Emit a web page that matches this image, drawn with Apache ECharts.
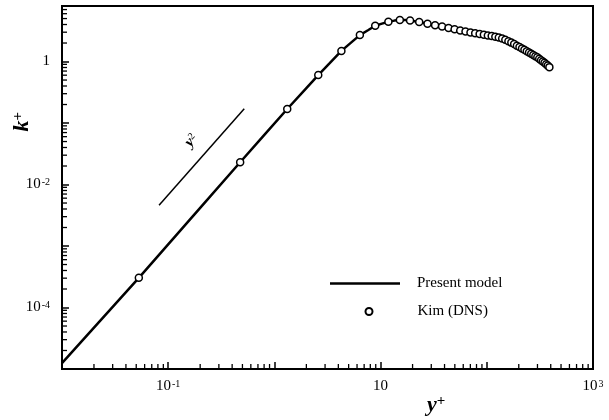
<!DOCTYPE html>
<html>
<head>
<meta charset="utf-8">
<script src="https://cdn.jsdelivr.net/npm/echarts@6/dist/echarts.min.js"></script>
<style>
  html, body { margin: 0; padding: 0; background: #fff; }
  #main { width: 609px; height: 420px; }
</style>
</head>
<body>
<div id="main"></div>
<script>
// Kim (DNS) points: y+ and k+
var dnsY = [0.0529, 0.476, 1.321, 2.588, 4.275, 6.38, 8.90, 11.84, 15.18, 18.94, 23.09, 27.65,
    32.59, 37.92, 43.64, 49.73, 56.20, 63.02, 70.20, 77.73, 85.60, 93.80, 102.3, 111.2,
    120.3, 129.7, 139.5, 149.4, 159.7, 170.2, 181.0, 191.9, 203.1, 214.5, 226.1, 237.9,
    249.8, 261.9, 274.1, 286.5, 298.9, 311.5, 324.1, 336.8, 349.6, 362.4, 375.2, 388.5];
var dnsK = [3.04e-4, 0.023, 0.169, 0.602, 1.49, 2.69, 3.82, 4.44, 4.75, 4.64, 4.41, 4.12,
    3.89, 3.70, 3.52, 3.35, 3.21, 3.08, 2.96, 2.88, 2.80, 2.73, 2.66, 2.59,
    2.53, 2.45, 2.36, 2.26, 2.14, 2.03, 1.92, 1.81, 1.72, 1.63, 1.55, 1.47,
    1.40, 1.34, 1.28, 1.22, 1.17, 1.11, 1.05, 1.00, 0.956, 0.907, 0.858, 0.811];

// present model curve
var modelY = [0.01, 0.0529, 0.2, 0.476, 0.8, 1.321, 2.0, 2.588, 3.3, 4.275, 5.3, 6.38, 7.6, 8.9,
    10.3, 11.84, 13.5, 15.18, 17.0, 18.94, 23.09, 27.65, 32.59, 37.92, 43.64, 56.2, 70.2,
    85.6, 102.3, 120.3, 139.5, 159.7, 181.0, 203.1, 226.1, 249.8, 274.1, 298.9, 324.1,
    349.6, 375.2, 395];
var modelK = [1.25e-5, 3.04e-4, 4.16e-3, 0.023, 0.0635, 0.169, 0.37, 0.602, 0.93, 1.49, 2.05, 2.69,
    3.23, 3.82, 4.13, 4.44, 4.63, 4.75, 4.72, 4.64, 4.41, 4.12, 3.89, 3.70, 3.52, 3.21, 2.96,
    2.80, 2.66, 2.53, 2.36, 2.14, 1.92, 1.72, 1.55, 1.40, 1.28, 1.17, 1.05,
    0.956, 0.858, 0.79];

// y^2 slope guide
var slopeY = [0.082, 0.52];
var slopeK = [0.0046, 0.17];

// axis ticks and labels
var xDecades = [0.01, 0.1, 1, 10, 100, 1000];
var yDecades = [1e-5, 1e-4, 1e-3, 1e-2, 1e-1, 1];
var xLabelText = { '-1': '10{s|-1}', '1': '10', '3': '10{s|3}' };
var yLabelText = { '0': '1', '-2': '10{s|-2}', '-4': '10{s|-4}' };
var xMin = 0.01, xMax = 1000, yMin = 1e-5, yMax = 8;

// minor ticks at 2..9 of each decade
function minorTicks(decades, maxVal) {
    var out = [];
    for (var i = 0; i < decades.length; i++) {
        for (var m = 2; m <= 9; m++) {
            var v = decades[i] * m;
            if (v < maxVal) out.push(v);
        }
    }
    return out;
}
var xMinor = minorTicks(xDecades, xMax);
var yMinor = minorTicks(yDecades, yMax);

function pairs(a, b) {
    var r = [];
    for (var i = 0; i < a.length; i++) r.push([a[i], b[i]]);
    return r;
}
function decadeKey(v) { return String(Math.round(Math.log10(v))); }

var serif = '"Liberation Serif", "DejaVu Serif", serif';
var labelRich = { s: { fontSize: 10, fontFamily: serif, verticalAlign: 'top', lineHeight: 10, padding: [0, 0, 0, 1] } };

var chart = echarts.init(document.getElementById('main'));
var option = {
    animation: false,
    grid: { left: 62, right: 16, top: 6, bottom: 51, show: true, borderColor: '#000', borderWidth: 2 },
    legend: [
        {
            data: [{ name: 'Present model', icon: 'rect' }], left: 330, top: 276, padding: 0,
            itemWidth: 70, itemHeight: 2.5, symbolKeepAspect: false,
            selectedMode: false, textStyle: { fontFamily: serif, fontSize: 15, color: '#000', padding: [0, 0, 0, 12] }
        },
        {
            data: ['Kim (DNS)'], left: 364.5, top: 304, padding: 0, itemWidth: 7, itemHeight: 7,
            selectedMode: false, textStyle: { fontFamily: serif, fontSize: 15, color: '#000', padding: [0, 0, 0, 40] }
        }
    ],
    xAxis: {
        type: 'log', logBase: 10, min: xMin, max: xMax,
        axisLine: { lineStyle: { color: '#000', width: 2 } },
        axisTick: { inside: true, length: 7, customValues: xDecades, lineStyle: { color: '#000', width: 1.5 } },
        axisLabel: {
            customValues: xDecades, margin: 10, color: '#000', fontFamily: serif, fontSize: 15, rich: labelRich,
            formatter: function (v) { return xLabelText[decadeKey(v)] || ''; }
        },
        splitLine: { show: false }
    },
    yAxis: {
        type: 'log', logBase: 10, min: yMin, max: yMax,
        axisLine: { lineStyle: { color: '#000', width: 2 } },
        axisTick: { inside: true, length: 7, customValues: yDecades, lineStyle: { color: '#000', width: 1.5 } },
        axisLabel: {
            customValues: yDecades, margin: 12, color: '#000', fontFamily: serif, fontSize: 15, rich: labelRich,
            formatter: function (v) { return yLabelText[decadeKey(v)] || ''; }
        },
        splitLine: { show: false }
    },
    graphic: [
        {
            type: 'text', left: 11, top: 112, rotation: Math.PI / 2,
            style: {
                text: '{a|k}{p|+}', fill: '#000',
                rich: {
                    a: { fontFamily: serif, fontStyle: 'italic', fontWeight: 'bold', fontSize: 22 },
                    p: { fontFamily: serif, fontWeight: 'bold', fontSize: 15, verticalAlign: 'top' }
                }
            }
        },
        {
            type: 'text', left: 427, top: 394,
            style: {
                text: '{a|y}{p|+}', fill: '#000',
                rich: {
                    a: { fontFamily: serif, fontStyle: 'italic', fontWeight: 'bold', fontSize: 22 },
                    p: { fontFamily: serif, fontWeight: 'bold', fontSize: 15, verticalAlign: 'top' }
                }
            }
        },
        {
            type: 'text', x: 182, y: 140, rotation: 0.85,
            style: {
                text: '{a|y}{p|2}', fill: '#000',
                rich: {
                    a: { fontFamily: serif, fontStyle: 'italic', fontWeight: 'bold', fontSize: 15 },
                    p: { fontFamily: serif, fontSize: 10, verticalAlign: 'top' }
                }
            }
        }
    ],
    series: [
        {
            name: 'Present model', type: 'line', data: pairs(modelY, modelK),
            symbol: 'none', lineStyle: { color: '#000', width: 2.5 }, itemStyle: { color: '#000' }, z: 2
        },
        {
            name: 'Kim (DNS)', type: 'scatter', data: pairs(dnsY, dnsK),
            symbol: 'circle', symbolSize: 7,
            itemStyle: { color: '#fff', borderColor: '#000', borderWidth: 1.5, opacity: 1 }, z: 3
        },
        {
            name: 'slope', type: 'line', data: pairs(slopeY, slopeK),
            symbol: 'none', lineStyle: { color: '#000', width: 1.5 }, z: 2
        },
        {
            name: 'xMinorTicks', type: 'custom', silent: true, clip: false, z: 4,
            data: xMinor.map(function (v) { return [v, yMin]; }),
            renderItem: function (params, api) {
                var p = api.coord([api.value(0), api.value(1)]);
                return { type: 'line', shape: { x1: p[0], y1: p[1], x2: p[0], y2: p[1] - 5 },
                    style: { stroke: '#000', lineWidth: 1.3 } };
            }
        },
        {
            name: 'yMinorTicks', type: 'custom', silent: true, clip: false, z: 4,
            data: yMinor.map(function (v) { return [xMin, v]; }),
            renderItem: function (params, api) {
                var p = api.coord([api.value(0), api.value(1)]);
                return { type: 'line', shape: { x1: p[0], y1: p[1], x2: p[0] + 5, y2: p[1] },
                    style: { stroke: '#000', lineWidth: 1.3 } };
            }
        }
    ]
};
chart.setOption(option);
</script>
</body>
</html>
